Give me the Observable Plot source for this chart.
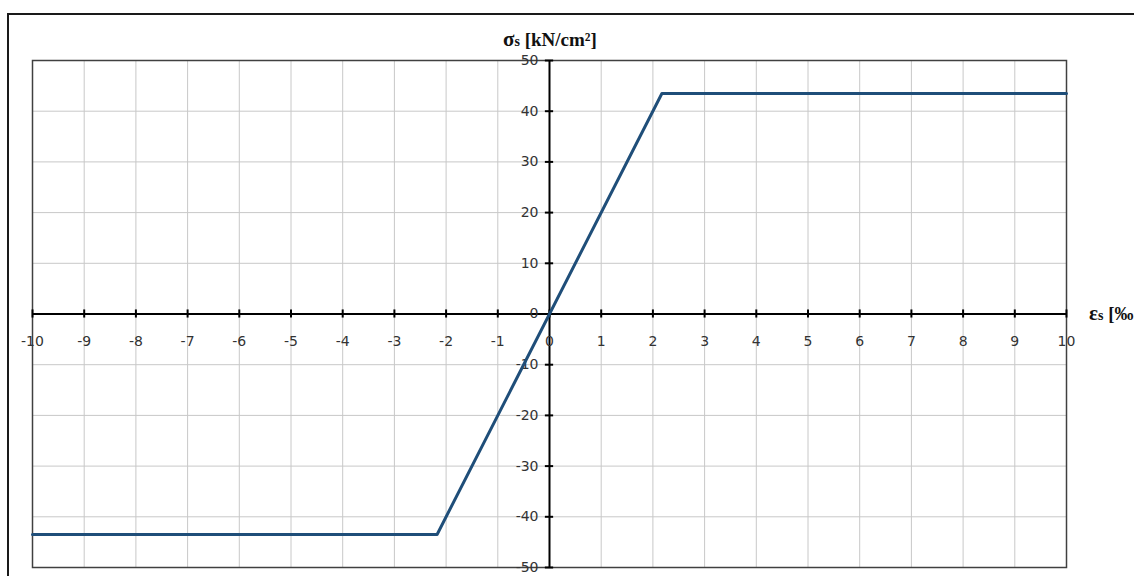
<!DOCTYPE html>
<html>
<head>
<meta charset="utf-8">
<script src="https://cdn.jsdelivr.net/npm/d3@7"></script>
<script src="https://cdn.jsdelivr.net/npm/@observablehq/plot@0.6"></script>
<style>
  html, body { margin: 0; padding: 0; background: #fff; }
  #chart svg { display: block; }
</style>
</head>
<body>
<div id="chart"></div>
<script>
// Data
const strain = [-10, -2.174, 2.174, 10];          // εs [‰]
const stress = [-43.48, -43.48, 43.48, 43.48];    // σs [kN/cm²]
const xTicks = [-10, -9, -8, -7, -6, -5, -4, -3, -2, -1, 0, 1, 2, 3, 4, 5, 6, 7, 8, 9, 10];
const yTicks = [-50, -40, -30, -20, -10, 0, 10, 20, 30, 40, 50];
const yTitle = "σs [kN/cm²]";
const xTitle = "εs [‰";

const curve = strain.map((e, i) => ({e, s: stress[i]}));

const plot = Plot.plot({
  width: 1134,
  height: 576,
  marginLeft: 32,
  marginRight: 68,
  marginTop: 60,
  marginBottom: 9,
  style: {fontFamily: "'DejaVu Sans', sans-serif", fontSize: "14px", color: "#333", background: "#fff"},
  x: {domain: [-10, 10], axis: null},
  y: {domain: [-50, 50], axis: null},
  marks: [
    Plot.gridX(xTicks, {stroke: "#c8c8c8", strokeOpacity: 1, strokeWidth: 1}),
    Plot.gridY(yTicks, {stroke: "#c8c8c8", strokeOpacity: 1, strokeWidth: 1}),
    Plot.frame({stroke: "#404040", strokeWidth: 1.5}),
    Plot.ruleY([0], {stroke: "#000", strokeWidth: 2}),
    Plot.ruleX([0], {stroke: "#000", strokeWidth: 2}),
    Plot.ruleX(xTicks, {x: d => d, y1: -0.8, y2: 0.8, stroke: "#000", strokeWidth: 2}),
    Plot.ruleY(yTicks, {y: d => d, x1: -0.08, x2: 0.08, stroke: "#000", strokeWidth: 2}),
    Plot.text(xTicks, {x: d => d, y: 0, dy: 28, fontSize: 14, text: d => String(d), fill: "#333"}),
    Plot.text(yTicks, {x: 0, y: d => d, dx: -11, textAnchor: "end", fontSize: 14, text: d => String(d), fill: "#333"}),
    Plot.line(curve, {x: "e", y: "s", stroke: "#1F4E79", strokeWidth: 3})
  ]
});

document.getElementById("chart").append(plot);

const svg = d3.select(plot);
// outer chart-area border (top and left visible)
svg.append("path")
  .attr("d", "M8,576 L8,14 L1134,14")
  .attr("fill", "none")
  .attr("stroke", "#1a1a1a")
  .attr("stroke-width", 2);

// axis titles
function title(x, y, anchor, str) {
  const t = svg.append("text")
    .attr("x", x).attr("y", y)
    .attr("text-anchor", anchor)
    .attr("font-family", "'Liberation Serif', 'Times New Roman', serif")
    .attr("font-weight", "bold")
    .attr("font-size", 19)
    .attr("fill", "#111");
  t.append("tspan").attr("font-size", 21).text(str.slice(0, 1));
  t.append("tspan").attr("font-size", 14).text(str.slice(1, 2));
  t.append("tspan").text(str.slice(2));
}
title(550, 46, "middle", yTitle);
title(1089, 320, "start", xTitle);
</script>
</body>
</html>
